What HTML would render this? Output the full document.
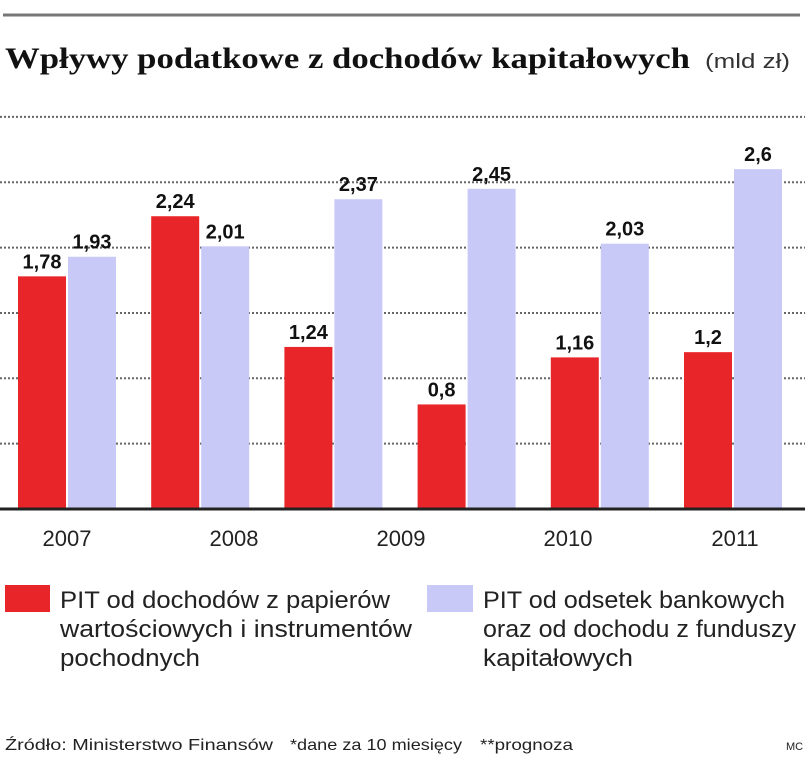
<!DOCTYPE html>
<html><head><meta charset="utf-8">
<style>
body{margin:0;background:#fff;width:805px;height:759px;overflow:hidden;font-family:"Liberation Sans",sans-serif;}
svg{display:block}
</style></head>
<body>
<svg width="805" height="759">
<line x1="3" y1="15" x2="800" y2="15" stroke="#777" stroke-width="3"/>
<text x="5" y="68" font-family="Liberation Serif, serif" font-weight="bold" font-size="30" fill="#111" textLength="685" lengthAdjust="spacingAndGlyphs">Wpływy podatkowe z dochodów kapitałowych</text>
<text x="705" y="68" font-size="20" fill="#333" textLength="85" lengthAdjust="spacingAndGlyphs">(mld zł)</text>
<g id="grid"></g>
<g id="bars"></g>
<g id="labels"></g>
<line x1="0" y1="509" x2="805" y2="509" stroke="#222" stroke-width="3"/>
<g id="xticks"></g>
<rect x="5" y="585" width="45" height="27" fill="#e8262a"/>
<text font-size="24" fill="#222"><tspan x="60" y="608" textLength="330" lengthAdjust="spacingAndGlyphs">PIT od dochodów z papierów</tspan><tspan x="60" y="637" textLength="352" lengthAdjust="spacingAndGlyphs">wartościowych i instrumentów</tspan><tspan x="60" y="666" textLength="140" lengthAdjust="spacingAndGlyphs">pochodnych</tspan></text>
<rect x="427" y="585" width="46" height="27" fill="#c9c9f8"/>
<text font-size="24" fill="#222"><tspan x="483" y="608" textLength="302" lengthAdjust="spacingAndGlyphs">PIT od odsetek bankowych</tspan><tspan x="483" y="637" textLength="313" lengthAdjust="spacingAndGlyphs">oraz od dochodu z funduszy</tspan><tspan x="483" y="666" textLength="150" lengthAdjust="spacingAndGlyphs">kapitałowych</tspan></text>
<text x="5" y="750" font-size="16" fill="#222"><tspan textLength="268" lengthAdjust="spacingAndGlyphs">Źródło: Ministerstwo Finansów</tspan><tspan x="290" textLength="172" lengthAdjust="spacingAndGlyphs">*dane za 10 miesięcy</tspan><tspan x="480" textLength="93" lengthAdjust="spacingAndGlyphs">**prognoza</tspan></text>
<text x="786" y="750" font-size="11" fill="#222">MC</text>
</svg>
<script>
const categories=["2007","2008","2009","2010","2011a","2011b"];
const redValues=[1.78,2.24,1.24,0.8,1.16,1.2];
const blueValues=[1.93,2.01,2.37,2.45,2.03,2.6];
const redLabels=["1,78","2,24","1,24","0,8","1,16","1,2"];
const blueLabels=["1,93","2,01","2,37","2,45","2,03","2,6"];
const yTicks=[0.5,1,1.5,2,2.5,3];
const xTickLabels=["2007","2008","2009","2010","2011"];
const NS="http://www.w3.org/2000/svg";
const y=v=>509-v*130.7;
const gx=i=>18+i*133.2;
const bw=48;
const tx=i=>67+i*167;
function mk(tag,attrs,parent){const e=document.createElementNS(NS,tag);for(const k in attrs)e.setAttribute(k,attrs[k]);parent.appendChild(e);return e;}
const grid=document.getElementById('grid'),bars=document.getElementById('bars'),labels=document.getElementById('labels'),xt=document.getElementById('xticks');
yTicks.forEach(t=>{
 const l=mk('line',{x1:0,x2:805,y1:y(t),y2:y(t),stroke:'#666','stroke-width':2,'stroke-dasharray':'2 2'},grid);
 
 
});
categories.forEach((c,i)=>{
 const r=mk('rect',{x:gx(i),y:y(redValues[i]),width:bw,height:509-y(redValues[i]),fill:'#e8262a'},bars);
 
 
 const b=mk('rect',{x:gx(i)+bw+2,y:y(blueValues[i]),width:bw,height:509-y(blueValues[i]),fill:'#c9c9f8'},bars);
 
 
 const rl=mk('text',{x:gx(i)+bw/2,y:y(redValues[i])-8,'text-anchor':'middle','font-size':20,'font-weight':'bold',fill:'#111'},labels);
 rl.textContent=redLabels[i];
 
 
 const bl=mk('text',{x:gx(i)+bw*1.5+2,y:y(blueValues[i])-8,'text-anchor':'middle','font-size':20,'font-weight':'bold',fill:'#111'},labels);
 bl.textContent=blueLabels[i];
 
 
});
xTickLabels.forEach((t,i)=>{
 const e=mk('text',{x:tx(i),y:546,'text-anchor':'middle','font-size':22,fill:'#222'},xt);
 e.textContent=t;
 
 
});
</script>
</body></html>
